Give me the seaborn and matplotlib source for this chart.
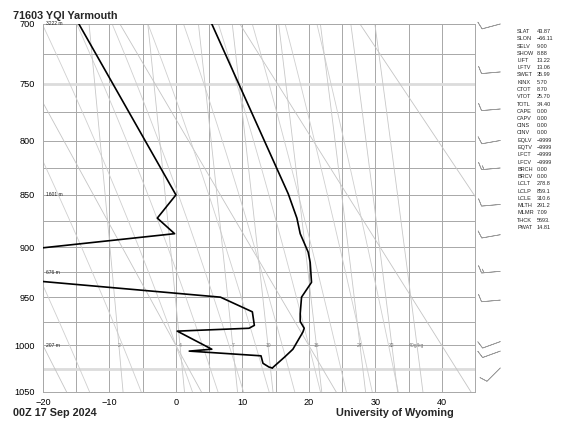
import numpy as np
import pandas as pd
import matplotlib
matplotlib.use("Agg")
import matplotlib.pyplot as plt
import seaborn as sns

# sounding (hPa, degC)
temp_p = [700, 849, 872, 887, 905, 915, 935, 950, 967, 975, 982, 986, 1004, 1012, 1024]
temp_c = [5.4, 16.9, 18.2, 18.7, 19.9, 20.2, 20.4, 18.9, 18.7, 18.7, 19.3, 19.1, 17.6, 16.4, 14.5]
dwpt_p = [700, 850, 872, 887, 919, 950, 965, 979, 982, 985, 1004, 1006, 1011, 1019, 1023, 1024]
dwpt_c = [-14.6, 0.0, -2.8, -0.2, -46.0, 6.7, 11.5, 11.8, 11.0, 0.2, 5.4, 2.0, 12.8, 13.1, 14.0, 14.5]

# heights of the standard levels
hgt_p = [700, 850, 925, 1000]
hgt_txt = ["3222 m", "1601 m", "676 m", "207 m"]

# winds (hPa, deg, kt)
wind_p = [700, 740, 772, 800, 825, 859, 888, 924, 953, 996, 1006, 1024]
wind_dir = [255, 265, 265, 260, 265, 265, 260, 265, 265, 250, 250, 225]
wind_spd = [10, 10, 10, 10, 15, 10, 10, 15, 10, 10, 10, 10]

# background lines
mixr_gkg = [2, 4, 7, 10, 16, 24, 32, 40]
dry_t1000 = [-20, 0, 20, 40, 60]
moist_t1000 = [-16, -8, 0, 4, 8, 12, 16, 20, 24, 28, 32]

# station indices
idx_names = ["SLAT", "SLON", "SELV", "SHOW", "LIFT", "LFTV", "SWET", "KINX", "CTOT", "VTOT",
             "TOTL", "CAPE", "CAPV", "CINS", "CINV", "EQLV", "EQTV", "LFCT", "LFCV", "BRCH",
             "BRCV", "LCLT", "LCLP", "LCLE", "MLTH", "MLMR", "THCK", "PWAT"]
idx_vals = ["43.87", "\u221266.11", "9.00", "8.88", "13.22", "13.06", "35.99", "5.70", "8.70", "25.70",
            "34.40", "0.00", "0.00", "0.00", "0.00", "\u22129999", "\u22129999", "\u22129999", "\u22129999", "0.00",
            "0.00", "278.8", "859.1", "310.6", "291.2", "7.09", "5693.", "14.81"]

KAPPA = 0.286


def mixr_line(w, p):
    e = w * p / (622.0 + w)
    x = np.log(e / 6.112)
    return 243.5 * x / (17.67 - x)


def moist_line(t0, p):
    # pseudo-adiabat through t0 at 1000 hPa, simple euler steps
    def lapse(tk, pp):
        es = 6.112 * np.exp(17.67 * (tk - 273.15) / (tk - 29.65))
        rs = 0.622 * es / (pp - es)
        return (287.04 * tk + 2.501e6 * rs) / (1005.7 + 2.501e6 ** 2 * rs * 0.622 / (287.04 * tk ** 2)) / pp
    out = {}
    for direction in (-1, 1):
        tk, pp = t0 + 273.15, 1000.0
        while 690 <= pp <= 1060:
            out[round(pp, 1)] = tk - 273.15
            dp = direction * 1.0
            tk += lapse(tk, pp) * dp
            pp += dp
    ps = np.array(sorted(out))
    return ps, np.array([out[k] for k in ps])


sns.set_theme(style="white")
plt.rcParams["font.family"] = ["Liberation Sans", "DejaVu Sans"]

W, H = 563, 424
fig = plt.figure(figsize=(W / 100, H / 100), dpi=100)
L, R, T, B = 43, 475, 24, 392
ax = fig.add_axes([L / W, 1 - B / H, (R - L) / W, (B - T) / H])
ax.set_yscale("function", functions=(lambda p: np.power(np.maximum(p, 1e-3), KAPPA),
                                     lambda s: np.power(np.maximum(s, 1e-9), 1 / KAPPA)))
ax.set_xlim(-20, 45)
ax.set_ylim(1050, 700)

grid_kw = dict(color="#a8a8a8", lw=0.7, zorder=1)
for t in range(-20, 46, 5):
    ax.axvline(t, **grid_kw)
for p in range(700, 1051, 25):
    if p in (750, 1025):
        ax.axhline(p, color="#dcdcdc", lw=2.0, zorder=1)
    else:
        ax.axhline(p, **grid_kw)

pp = np.linspace(690, 1060, 80)
for t0 in dry_t1000:
    ax.plot((t0 + 273.15) * (pp / 1000.0) ** KAPPA - 273.15, pp, color="#c4c4c4", lw=0.6, zorder=1)
for t0 in moist_t1000:
    mp, mt = moist_line(t0, 1000)
    ax.plot(mt, mp, color="#cfcfcf", lw=0.6, zorder=1)
for w in mixr_gkg:
    ax.plot(mixr_line(w, pp), pp, color="#c8c8c8", lw=0.6, zorder=1)
    lab = f"{w}g/kg" if w == mixr_gkg[-1] else str(w)
    ax.text(mixr_line(w, 1000), 1000, lab, fontsize=3.6, color="#7a7a7a",
            ha="center", va="center", zorder=2)

prof = pd.concat([
    pd.DataFrame({"p": temp_p, "t": temp_c, "kind": "temp"}),
    pd.DataFrame({"p": dwpt_p, "t": dwpt_c, "kind": "dwpt"}),
])
sns.lineplot(data=prof, x="t", y="p", units="kind", estimator=None, sort=False,
             color="black", lw=1.2, ax=ax, zorder=3)

for p, s in zip(hgt_p, hgt_txt):
    ax.text(-19.5, p, s, fontsize=3.6, color="#222222", ha="left", va="center", zorder=4)

rad = np.deg2rad(wind_dir)
u = -np.array(wind_spd) * np.sin(rad)
v = -np.array(wind_spd) * np.cos(rad)
ax.barbs(np.full(len(wind_p), 48.8), wind_p, u, v, length=5.2, lw=0.5,
         color="#9a9a9a", clip_on=False, sizes=dict(emptybarb=0))

ax.set_xticks(range(-20, 41, 10))
ax.set_xticklabels([f"{t}".replace("-", "\u2212") for t in range(-20, 41, 10)])
ax.set_yticks(range(700, 1051, 50))
ax.set_yticklabels([str(p) for p in range(700, 1051, 50)])
ax.tick_params(length=0, labelsize=6.6, colors="black")
ax.tick_params(axis="y", pad=6)
ax.tick_params(axis="x", pad=4)
ax.set_xlabel("")
ax.set_ylabel("")
ax.yaxis.set_minor_locator(matplotlib.ticker.NullLocator())
for sp in ax.spines.values():
    sp.set_color("#a8a8a8")
    sp.set_linewidth(0.7)

fig.text(13 / W, 1 - 19 / H, "71603 YQI Yarmouth", fontsize=7.8, fontweight="bold", ha="left", va="baseline")
fig.text(13 / W, 1 - 416 / H, "00Z 17 Sep 2024", fontsize=7.8, fontweight="bold", ha="left", va="baseline")
fig.text(395 / W, 1 - 416 / H, "University of Wyoming", fontsize=7.8, fontweight="bold", ha="center", va="baseline")

# index table: values in a column, pushed right when the name is too wide
renderer = fig.canvas.get_renderer()
for i, (n, val) in enumerate(zip(idx_names, idx_vals)):
    y = 1 - (33 + i * 7.25) / H
    t = fig.text(517 / W, y, n, fontsize=4.0, ha="left", va="baseline")
    right = t.get_window_extent(renderer).x1
    vx = max(537, right + 2)
    fig.text(vx / W, y, val, fontsize=4.0, ha="left", va="baseline")

fig.savefig("out.png", dpi=100)
